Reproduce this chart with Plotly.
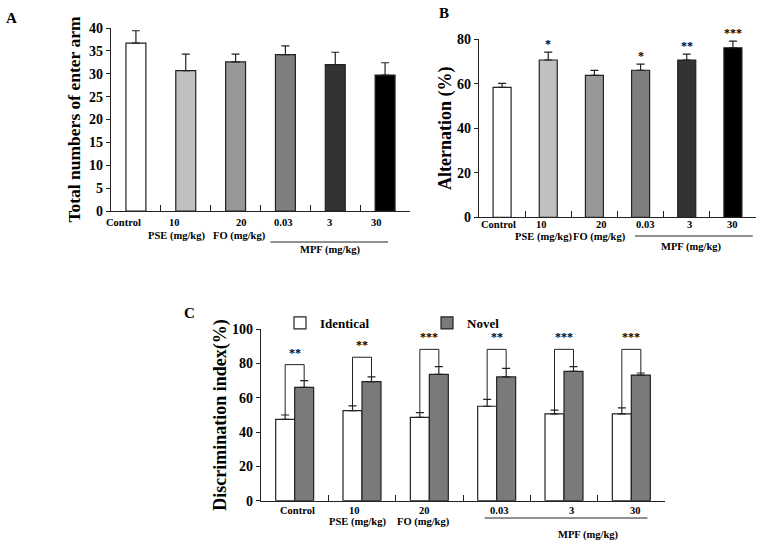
import plotly.graph_objects as go

# ---------------- data ----------------
groups = ["Control", "PSE 10", "FO 20", "MPF 0.03", "MPF 3", "MPF 30"]
dose_labels = ["Control", "10", "20", "0.03", "3", "30"]

# Panel A: total numbers of enter arm
arm_entries = [36.7, 30.7, 32.6, 34.2, 32.0, 29.7]
arm_entries_err = [2.7, 3.6, 1.7, 1.9, 2.7, 2.7]

# Panel B: alternation (%)
alternation = [58.4, 70.7, 63.8, 66.1, 70.7, 76.2]
alternation_err = [1.8, 3.5, 2.2, 2.7, 2.6, 3.0]
alternation_sig = ["", "*", "", "*", "**", "***"]

# Panel C: discrimination index (%)
identical = [47.5, 52.5, 48.6, 55.1, 50.6, 50.6]
identical_err = [2.5, 2.8, 2.8, 4.0, 2.3, 3.5]
novel = [66.1, 69.5, 73.7, 72.2, 75.5, 73.3]
novel_err = [3.9, 2.7, 4.5, 5.0, 2.7, 1.2]
novel_sig = ["**", "**", "***", "**", "***", "***"]
bracket_level = [79.4, 83.7, 88.3, 88.3, 88.3, 88.3]

group_colors = ["#ffffff", "#c0c0c0", "#979797", "#7f7f7f", "#333333", "#000000"]

# ---------------- styling ----------------
FONT = "Liberation Serif, Times New Roman, serif"
INK = "#222222"
W, H = 760, 544


def px_x(p):
    return p / W


def px_y(p):
    return 1 - p / H


fig = go.Figure()

# Panel A
fig.add_trace(go.Bar(
    x=groups, y=arm_entries, width=0.4, xaxis="x", yaxis="y",
    marker=dict(color=group_colors, line=dict(color=INK, width=1.2)),
    error_y=dict(type="data", symmetric=False, array=arm_entries_err,
                 arrayminus=[0] * len(groups), color=INK, thickness=1.2, width=4),
    showlegend=False, hoverinfo="x+y"))

# Panel B
fig.add_trace(go.Bar(
    x=groups, y=alternation, width=0.39, xaxis="x2", yaxis="y2",
    marker=dict(color=group_colors, line=dict(color=INK, width=1.2)),
    error_y=dict(type="data", symmetric=False, array=alternation_err,
                 arrayminus=[0] * len(groups), color=INK, thickness=1.2, width=4),
    showlegend=False, hoverinfo="x+y"))

# Panel C
bw = 0.282
fig.add_trace(go.Bar(
    x=groups, y=identical, width=bw, offset=-bw, xaxis="x3", yaxis="y3",
    name="Identical",
    marker=dict(color="#ffffff", line=dict(color=INK, width=1.2)),
    error_y=dict(type="data", symmetric=False, array=identical_err,
                 arrayminus=[0] * len(groups), color=INK, thickness=1.2, width=4)))
fig.add_trace(go.Bar(
    x=groups, y=novel, width=bw, offset=0, xaxis="x3", yaxis="y3",
    name="Novel",
    marker=dict(color="#7a7a7a", line=dict(color=INK, width=1.2)),
    error_y=dict(type="data", symmetric=False, array=novel_err,
                 arrayminus=[0] * len(groups), color=INK, thickness=1.2, width=4)))

xax = dict(type="category", range=[-0.5, 5.5], showline=True, linecolor=INK,
           linewidth=1.2, ticks="inside", tickson="boundaries", ticklen=6,
           tickcolor=INK, tickwidth=1.2, showticklabels=False, showgrid=False,
           zeroline=False, fixedrange=True)
yax = dict(showline=True, linecolor=INK, linewidth=1.2, ticks="outside",
           ticklen=4, tickcolor=INK, tickwidth=1.2, showgrid=False,
           zeroline=False, tickfont=dict(size=14, family=FONT, color="#000", weight="bold"),
           fixedrange=True, automargin=False)

fig.update_layout(
    width=W, height=H,
    margin=dict(l=0, r=0, t=0, b=0, pad=0, autoexpand=False),
    paper_bgcolor="white", plot_bgcolor="white",
    barmode="overlay",
    font=dict(family=FONT, color="#000", weight="bold"),
    xaxis=dict(xax, domain=[px_x(111), px_x(410)], anchor="y"),
    yaxis=dict(yax, domain=[px_y(211), px_y(28)], anchor="x", range=[0, 40],
               tickvals=[0, 5, 10, 15, 20, 25, 30, 35, 40],
               title=dict(text="Total numbers of enter arm", standoff=3,
                          font=dict(size=17.5, family=FONT, weight="bold"))),
    xaxis2=dict(xax, domain=[px_x(479), px_x(756)], anchor="y2"),
    yaxis2=dict(yax, domain=[px_y(217.3), px_y(39.3)], anchor="x2", range=[0, 80],
                tickvals=[0, 20, 40, 60, 80],
                title=dict(text="Alternation (%)", standoff=0,
                           font=dict(size=18, family=FONT, weight="bold"))),
    xaxis3=dict(xax, domain=[px_x(261), px_x(665)], anchor="y3"),
    yaxis3=dict(yax, domain=[px_y(500.7), px_y(329.3)], anchor="x3", range=[0, 100],
                tickvals=[0, 20, 40, 60, 80, 100],
                title=dict(text="Discrimination index(%)", standoff=0,
                           font=dict(size=18, family=FONT, weight="bold"))),
    legend=dict(orientation="h", x=px_x(280), y=px_y(323), xanchor="left",
                yanchor="middle", entrywidth=102, entrywidthmode="pixels",
                itemwidth=30, bgcolor="rgba(0,0,0,0)",
                font=dict(size=13, family=FONT, weight="bold")),
)

annotations = []
shapes = []

LBL = dict(size=10.5, family=FONT, color="#000", weight="bold")


def add_label(xref, yref, x, text, dy, dx=0):
    annotations.append(dict(xref=xref, yref=yref + " domain", x=x, y=0, text=text,
                            showarrow=False, xanchor="center", yanchor="middle",
                            yshift=-dy, xshift=dx, font=LBL))


def add_group_line(xref, x0, x1, ypix):
    shapes.append(dict(type="line", xref=xref, yref="paper", x0=x0, x1=x1,
                       y0=px_y(ypix), y1=px_y(ypix), line=dict(color=INK, width=1)))


# Panel A x labels
a_shift = [-12, -11, 6, -2, -6, -9]
for i, lab in enumerate(dose_labels):
    add_label("x", "y", i, lab, 11, a_shift[i])
add_label("x", "y", 1, "PSE (mg/kg)", 25, -9)
add_label("x", "y", 2, "FO (mg/kg)", 25, 4)
add_label("x", "y", 3.9, "MPF (mg/kg)", 39)
add_group_line("x", 2.7, 5.06, 242)

# Panel B x labels
b_shift = [-4, -7, 7, 4, 3, 0]
for i, lab in enumerate(dose_labels):
    add_label("x2", "y2", i, lab, 7, b_shift[i])
add_label("x2", "y2", 1, "PSE (mg/kg)", 20, -5)
add_label("x2", "y2", 2, "FO (mg/kg)", 20, 5)
add_label("x2", "y2", 4.09, "MPF (mg/kg)", 30)
add_group_line("x2", 2.88, 5.43, 236)

# Panel B significance
for i, s in enumerate(alternation_sig):
    if s:
        annotations.append(dict(xref="x2", yref="y2", x=i, y=alternation[i] + alternation_err[i],
                                text=s, showarrow=False, yanchor="bottom", yshift=-1,
                                font=dict(size=12, family=FONT, color="#000", weight="bold")))

# Panel C x labels
c_shift = [3, -8, -5, 2, 7, 4]
for i, lab in enumerate(dose_labels):
    add_label("x3", "y3", i, lab, 10, c_shift[i])
add_label("x3", "y3", 1, "PSE (mg/kg)", 21, -5)
add_label("x3", "y3", 2, "FO (mg/kg)", 21, -6)
add_label("x3", "y3", 4.35, "MPF (mg/kg)", 34)
add_group_line("x3", 2.82, 5.24, 518)

# Panel C brackets and stars
for i in range(len(groups)):
    x0 = i - bw / 2
    x1 = i + bw / 2
    a = identical[i] + identical_err[i]
    b = novel[i] + novel_err[i]
    lvl = bracket_level[i]
    shapes.append(dict(type="path", xref="x3", yref="y3",
                       path=f"M {x0},{a} L {x0},{lvl} L {x1},{lvl} L {x1},{b}",
                       line=dict(color=INK, width=1)))
    annotations.append(dict(xref="x3", yref="y3", x=i, y=lvl, text=novel_sig[i],
                            showarrow=False, yanchor="bottom", yshift=3,
                            font=dict(size=12, family=FONT, color="#000", weight="bold")))

# Panel letters
for letter, x, y in [("A", 11, 18), ("B", 444, 13), ("C", 189, 313)]:
    annotations.append(dict(xref="paper", yref="paper", x=px_x(x), y=px_y(y), text=letter,
                            showarrow=False, xanchor="center", yanchor="middle",
                            font=dict(size=15, family=FONT, color="#000", weight="bold")))

fig.update_layout(annotations=annotations, shapes=shapes)

# remove the browser's default 8px page margin so the 760x544 figure fills the window
fig.write_html("out.html", config={"displayModeBar": False},
               post_script="document.body.style.margin = '0px';")
